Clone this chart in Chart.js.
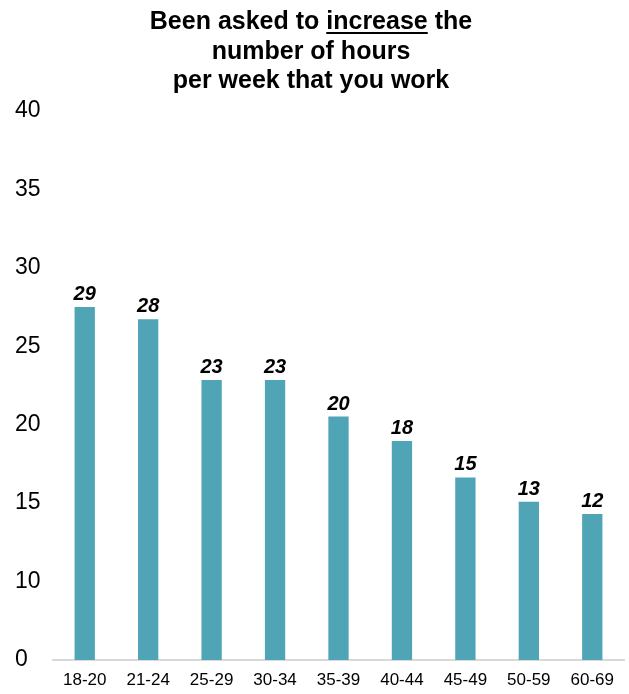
<!DOCTYPE html>
<html>
<head>
<meta charset="utf-8">
<script src="https://cdn.jsdelivr.net/npm/chart.js@4/dist/chart.umd.min.js"></script>
<style>
  html, body { margin: 0; padding: 0; background: #fff; }
  #wrap { width: 629px; height: 694px; }
</style>
</head>
<body>
<div id="wrap"><canvas id="chart"></canvas></div>
<script>
const ageGroups = ['18-20', '21-24', '25-29', '30-34', '35-39', '40-44', '45-49', '50-59', '60-69'];
const askedToIncrease = [29, 28, 23, 23, 20, 18, 15, 13, 12];
const yTickLabels = ['0', '10', '15', '20', '25', '30', '35', '40'];
const titleLines = ['Been asked to increase the', 'number of hours', 'per week that you work'];
const underlinedWord = 'increase';

const Y_MAX = 45.1;
const FONT = '"Liberation Sans", Arial, Helvetica, sans-serif';

// bold italic numbers above each bar
const valueLabels = {
    id: 'valueLabels',
    afterDatasetsDraw(chart) {
        const ctx = chart.ctx;
        ctx.save();
        ctx.font = 'italic bold 20px ' + FONT;
        ctx.fillStyle = '#000';
        ctx.textAlign = 'center';
        ctx.textBaseline = 'alphabetic';
        chart.getDatasetMeta(0).data.forEach((bar, i) => {
            ctx.fillText(String(askedToIncrease[i]), bar.x, bar.y - 7);
        });
        ctx.restore();
    }
};

// three-line heading, one word underlined
const heading = {
    id: 'heading',
    afterDraw(chart) {
        const ctx = chart.ctx;
        const cx = 311;
        const baselines = [29, 59, 88];
        ctx.save();
        ctx.font = 'bold 25px ' + FONT;
        ctx.fillStyle = '#000';
        ctx.textAlign = 'center';
        ctx.textBaseline = 'alphabetic';
        titleLines.forEach((line, i) => ctx.fillText(line, cx, baselines[i]));

        const line = titleLines[0];
        const full = ctx.measureText(line).width;
        const start = cx - full / 2 + ctx.measureText(line.slice(0, line.indexOf(underlinedWord))).width;
        const w = ctx.measureText(underlinedWord).width;
        ctx.fillRect(start, baselines[0] + 3, w, 2);
        ctx.restore();
    }
};

new Chart(document.querySelector('#chart'), {
    type: 'bar',
    data: {
        labels: ageGroups,
        datasets: [{
            data: askedToIncrease,
            backgroundColor: '#4fa4b6',
            barPercentage: 0.32,
            categoryPercentage: 1
        }]
    },
    options: {
        responsive: true,
        maintainAspectRatio: false,
        animation: false,
        layout: { padding: { left: 15, right: 5, top: 111, bottom: 0 } },
        plugins: {
            legend: { display: false },
            tooltip: { enabled: false },
            title: { display: false }
        },
        scales: {
            x: {
                grid: { display: false, drawTicks: false },
                border: { display: true, color: '#d9d9d9', width: 2 },
                ticks: {
                    color: '#000',
                    padding: 10,
                    maxRotation: 0,
                    autoSkip: false,
                    font: { family: FONT, size: 17 }
                },
                afterFit: axis => { axis.height = 34; }
            },
            y: {
                min: 0,
                max: Y_MAX,
                grid: { display: false, drawTicks: false },
                border: { display: false },
                ticks: {
                    color: '#000',
                    crossAlign: 'far',
                    padding: 0,
                    font: { family: FONT, size: 23 },
                    callback: (value, index) => yTickLabels[index]
                },
                afterBuildTicks: axis => {
                    axis.ticks = yTickLabels.map((_, i) => ({ value: i * Y_MAX / (yTickLabels.length - 1) }));
                },
                afterFit: axis => { axis.width = 38; }
            }
        }
    },
    plugins: [valueLabels, heading]
});
</script>
</body>
</html>
